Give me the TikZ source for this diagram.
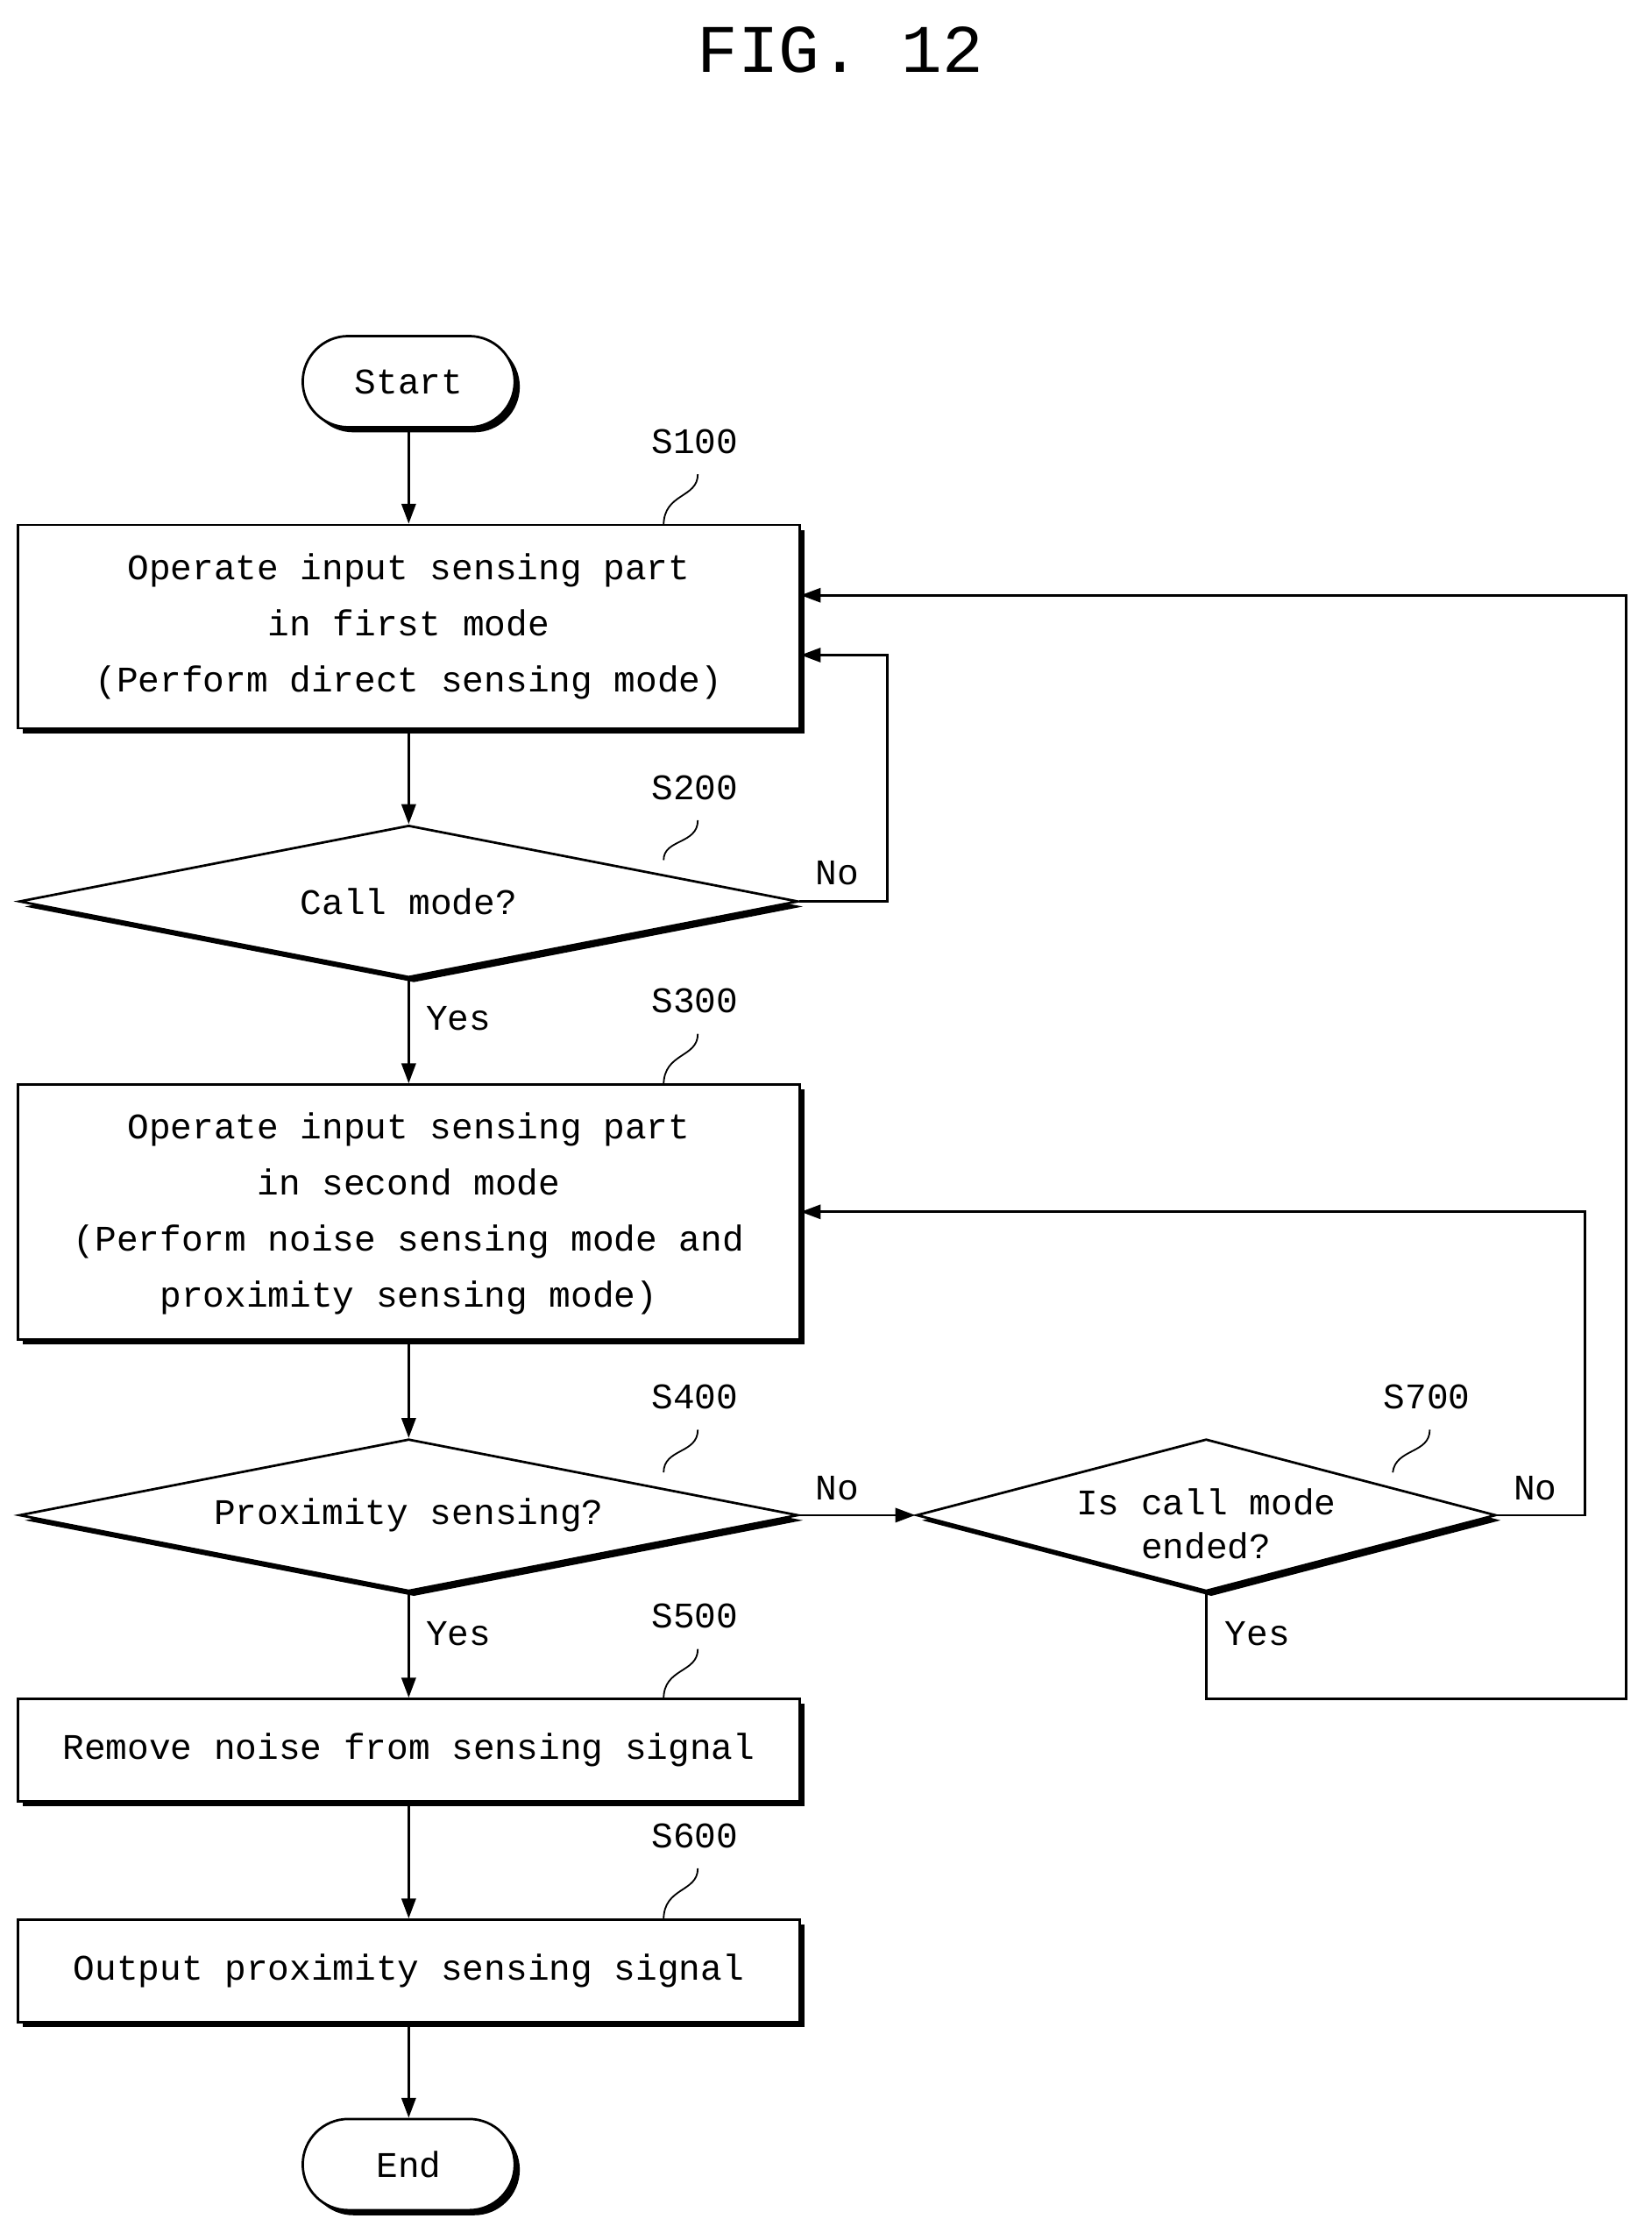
\documentclass[tikz,border=0pt]{standalone}
\usepackage{fontspec}
\setmainfont{Liberation Mono}
\usetikzlibrary{shapes.geometric,shadows,arrows.meta}
\begin{document}
\begin{tikzpicture}[x=0.025cm,y=-0.025cm,
  txt/.style={font=\fontsize{18}{28}\selectfont, align=center, inner sep=0},
  lbl/.style={font=\fontsize{18}{22}\selectfont, inner sep=0},
  sh/.style={draw, line width=1.2pt, fill=white, drop shadow={shadow xshift=0.09cm, shadow yshift=-0.09cm, fill=black, opacity=1}},
  box/.style={sh, rectangle, minimum width=13.72cm, minimum height=#1, inner sep=0},
  term/.style={sh, rounded corners=0.8cm, minimum width=3.72cm, minimum height=1.6cm, font=\fontsize{18}{22}\selectfont},
  dia/.style={sh, diamond, inner sep=0, minimum width=#1, minimum height=2.67cm},
  arr/.style={line width=1.2pt, -{Triangle[length=0.35cm,width=0.25cm]}},
  ln/.style={line width=1.2pt},
  sq/.style={line width=0.8pt}]
\useasboundingbox (0,0) rectangle (1160,1573);
\node[font=\fontsize{34}{40}\selectfont] (title) at (590,35) {FIG. 12};

\node[term] (start) at (287,268) {Start};
\node[box=3.57cm] (s100) at (287,440) {};
\node[txt] (t100) at (287,440) {Operate input sensing part\\in first mode\\(Perform direct sensing mode)};
\node[dia=13.67cm] (s200) at (287,633) {};
\node[txt] (t200) at (287,633) {Call mode?};
\node[box=4.47cm] (s300) at (287,851) {};
\node[txt] (t300) at (287,852) {Operate input sensing part\\in second mode\\(Perform noise sensing mode and\\proximity sensing mode)};
\node[dia=13.67cm] (s400) at (287,1064) {};
\node[txt] (t400) at (287,1064) {Proximity sensing?};
\node[dia=10.17cm] (s700) at (847,1064) {};
\node[txt, font=\fontsize{18}{22}\selectfont] (t700) at (847,1070) {Is call mode\\ended?};
\node[box=1.8cm] (s500) at (287,1229) {};
\node[txt] (t500) at (287,1229) {Remove noise from sensing signal};
\node[box=1.8cm] (s600) at (287,1384) {};
\node[txt] (t600) at (287,1384) {Output proximity sensing signal};
\node[term] (end) at (287,1520) {End};

% step labels
\foreach \n/\y/\ty in {S100/310/369, S200/553/604, S300/703/762, S400/981/1034, S500/1135/1193, S600/1289/1348}{
  \node[lbl] (l\n) at (488,\y) {\n};
  \draw[sq] (490,\y+23) .. controls (490,\y+40) and (466,\y+36) .. (466,\ty);
}
\node[lbl] (lS700) at (1002,981) {S700};
\draw[sq] (1004,1004) .. controls (1004,1021) and (980,1017) .. (978,1034);

% connectors
\draw[arr] (start) -- (s100);
\draw[arr] (s100) -- (s200);
\draw[arr] (s200.south) -- (s300.north);
\node[lbl] (yes1) at (322,715) {Yes};
\draw[arr] (s300) -- (s400.north);
\draw[arr] (s400.south) -- (s500.north);
\node[lbl] (yes2) at (322,1147) {Yes};
\draw[arr] (s500) -- (s600);
\draw[arr] (s600) -- (end);

\coordinate (c1) at (623,633);
\coordinate (c2) at (623,460);
\draw[arr] (s200.east) -- (c1) -- (c2) -- (c2 -| s100.east);
\node[lbl] (no1) at (588,613) {No};

\draw[arr] (s400.east) -- (s700.west);
\node[lbl] (no2) at (588,1045) {No};

\coordinate (c3) at (1113,1064);
\coordinate (c4) at (1113,851);
\draw[arr] (s700.east) -- (c3) -- (c4) -- (c4 -| s300.east);
\node[lbl] (no3) at (1078,1045) {No};

\coordinate (c5) at (847,1193);
\coordinate (c6) at (1142,1193);
\coordinate (c7) at (1142,418);
\draw[arr] (s700.south) -- (c5) -- (c6) -- (c7) -- (c7 -| s100.east);
\node[lbl] (yes3) at (883,1147) {Yes};
\end{tikzpicture}
\end{document}
